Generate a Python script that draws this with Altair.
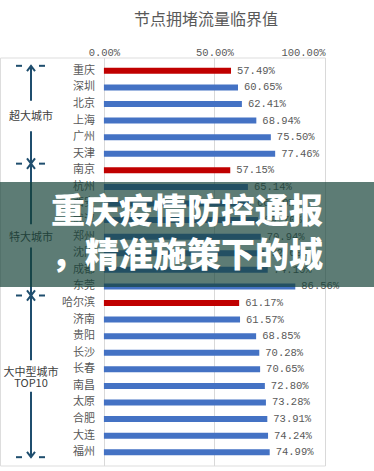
import altair as alt
import pandas as pd

# ---- data ----
cities = ["重庆", "深圳", "北京", "上海", "广州", "天津",
          "南京", "杭州", "西安", "武汉", "郑州", "沈阳", "成都", "东莞",
          "哈尔滨", "济南", "贵阳", "长沙", "长春", "南昌", "太原", "合肥", "大连", "福州"]
values = [57.49, 60.65, 62.41, 68.94, 75.50, 77.46,
          57.15, 65.14, 66.50, 69.70, 70.94, 72.60, 74.10, 86.56,
          61.17, 61.57, 68.85, 70.28, 70.65, 72.80, 73.28, 73.91, 74.24, 74.99]
highlight = ["重庆", "南京", "哈尔滨"]
axis_ticks = [0, 0.5, 1.0]

group_names = ["超大城市", "特大城市", "大中型城市", "TOP10"]
group_label_pos = [2.76, 10.06, 18.2, 18.9]
segment_start = [-0.3, 3.65, 5.6, 10.65, 13.55, 19.35]
segment_end = [1.8, 5.6, 9.25, 13.55, 17.45, 23.3]
boundaries = [-0.3, 5.6, 13.55, 23.3]
arrow_pos = [-0.3, 5.6, 5.6, 13.55, 13.55, 23.3]
arrow_dir = ["up", "down", "up", "down", "up", "down"]

banner_lines = ["重庆疫情防控通报", "，精准施策下的城"]

df = pd.DataFrame({
    "city": cities,
    "value": [v / 100 for v in values],
    "idx": list(range(len(cities))),
    "hl": ["red" if c in highlight else "blue" for c in cities],
})
groups = pd.DataFrame({"name": group_names, "pos": group_label_pos})
segs = pd.DataFrame({"y": segment_start, "y2": segment_end})
bnd = pd.DataFrame({"y": boundaries})
arrows = pd.DataFrame({"y": arrow_pos, "dir": arrow_dir})

FONT = "Noto Sans CJK SC"
MONO = "Liberation Mono"
GREY = "#595959"
NAVY = "#1F4E6E"

yscale = alt.Scale(domain=[-0.5, 23.5], reverse=True, nice=False, zero=False)
xscale = alt.Scale(domain=[-0.47, 1.0], nice=False, zero=False)

Y = lambda f: alt.Y(f, type="quantitative", scale=yscale, axis=None)

bars = alt.Chart(df).mark_bar(orient="horizontal", size=6).encode(
    x=alt.X("value:Q", scale=xscale,
            axis=alt.Axis(orient="top", values=axis_ticks, format=".2%", title=None,
                          grid=True, gridColor="#d9d9d9", gridWidth=1,
                          ticks=False, domain=False, labelPadding=0,
                          labelFont=MONO, labelFontSize=10.5, labelColor=GREY)),
    x2=alt.datum(0),
    y=Y("idx"),
    color=alt.Color("hl:N", scale=alt.Scale(domain=["red", "blue"], range=["#C00000", "#4472C4"]), legend=None),
)

vlabels = alt.Chart(df).mark_text(align="left", baseline="middle", dx=6,
                                  font=MONO, fontSize=10.5, color=GREY).encode(
    x=alt.X("value:Q", scale=xscale),
    y=Y("idx"),
    text=alt.Text("value:Q", format=".2%"),
)

clabels = alt.Chart(df).mark_text(align="right", baseline="middle", dx=-9,
                                  font=FONT, fontSize=11, color=GREY).encode(
    x=alt.datum(0, scale=xscale),
    y=Y("idx"),
    text="city:N",
)

glabels = alt.Chart(groups).mark_text(align="center", baseline="middle",
                                      font=FONT, fontSize=11, color="#404040").encode(
    x=alt.value(31),
    y=Y("pos"),
    text="name:N",
)

lines = alt.Chart(segs).mark_rule(color=NAVY, strokeWidth=2).encode(
    x=alt.value(31),
    y=Y("y"),
    y2="y2:Q",
)

dash_l = alt.Chart(bnd).mark_rule(color=NAVY, strokeWidth=2).encode(
    x=alt.value(16), x2=alt.value(22), y=Y("y"),
)
dash_r = alt.Chart(bnd).mark_rule(color=NAVY, strokeWidth=2).encode(
    x=alt.value(39), x2=alt.value(45), y=Y("y"),
)

up = alt.Chart(arrows).transform_filter(alt.datum.dir == "up").mark_point(
    shape="M-1,1.3L0,0L1,1.3", size=64, filled=False, stroke=NAVY, strokeWidth=2, opacity=1
).encode(x=alt.value(31), y=Y("y"))
down = alt.Chart(arrows).transform_filter(alt.datum.dir == "down").mark_point(
    shape="M-1,-1.3L0,0L1,-1.3", size=64, filled=False, stroke=NAVY, strokeWidth=2, opacity=1
).encode(x=alt.value(31), y=Y("y"))

banner = alt.Chart(pd.DataFrame({"t": [banner_lines]})).mark_rect(
    color="#144137", opacity=0.69
).encode(x=alt.value(0), x2=alt.value(374), y=alt.value(124.5), y2=alt.value(229.5))

banner_text = alt.Chart(pd.DataFrame({"t": [banner_lines]})).mark_text(
    align="center", baseline="middle", font=FONT, fontSize=34, fontWeight=900,
    color="white", lineHeight=44
).encode(x=alt.value(187), y=alt.value(155.5), text="t")

chart = alt.layer(
    bars, vlabels, clabels, lines, dash_l, dash_r, up, down, glabels, banner, banner_text
).properties(
    width=325, height=408,
    title=alt.TitleParams("节点拥堵流量临界值", anchor="start", dx=134, offset=20,
                          font=FONT, fontSize=16, fontWeight="normal", color=GREY),
    autosize=alt.AutoSizeParams(type="none"),
    padding={"left": 0, "top": 57.5, "right": 49, "bottom": 5.5},
).configure_view(stroke=None).configure(background="white")

chart.save("out.html", embed_options={"renderer": "svg", "actions": False})
